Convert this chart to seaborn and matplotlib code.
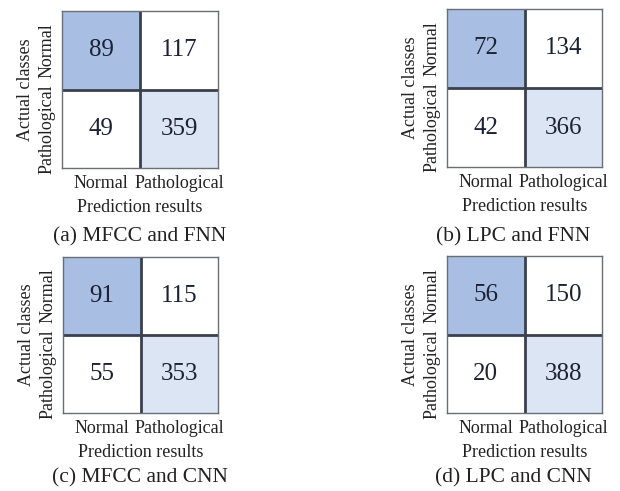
import numpy as np
import matplotlib
matplotlib.use("Agg")
import matplotlib.pyplot as plt
import seaborn as sns
from matplotlib.colors import ListedColormap

# Confusion matrices (rows: actual, cols: predicted)
classes = ["Normal", "Pathological"]
mfcc_fnn = [[89, 117], [49, 359]]
lpc_fnn = [[72, 134], [42, 366]]
mfcc_cnn = [[91, 115], [55, 353]]
lpc_cnn = [[56, 150], [20, 388]]
captions = ["(a) MFCC and FNN", "(b) LPC and FNN", "(c) MFCC and CNN", "(d) LPC and CNN"]
matrices = [mfcc_fnn, lpc_fnn, mfcc_cnn, lpc_cnn]

sns.set_theme(style="white")
plt.rcParams['font.family'] = ['Liberation Serif', 'DejaVu Serif']

W, H = 620, 491
fig = plt.figure(figsize=(W / 100, H / 100), dpi=100)

# cell shading: first diagonal cell dark blue, second light blue, others white
cmap = ListedColormap(["#ffffff", "#dce5f4", "#a8bee3"])
shade = np.diag([2, 1])

# axes boxes in pixels: left, top, right, bottom
boxes = [(62, 11, 218, 168), (447, 9, 602, 167),
         (63, 257, 218, 413), (447, 256, 602, 413)]
caption_pos = [(140, 237), (513, 237), (140, 478), (513, 478)]

for mat, cap, (l, t, r, b), (cx, cy) in zip(matrices, captions, boxes, caption_pos):
    ax = fig.add_axes([l / W, 1 - b / H, (r - l) / W, (b - t) / H])
    sns.heatmap(shade, annot=np.array(mat), fmt="d", cmap=cmap, vmin=0, vmax=2,
                cbar=False, linewidths=0,
                xticklabels=classes, yticklabels=classes,
                annot_kws={"fontsize": 18, "color": "#1c2233"}, ax=ax)
    # inner grid lines
    ax.axhline(1, color="#3a404c", linewidth=2.0)
    ax.axvline(1, color="#3a404c", linewidth=2.0)
    for s in ax.spines.values():
        s.set_visible(True)
        s.set_color("#6a6e75")
        s.set_linewidth(1.0)
    ax.tick_params(length=0, pad=5, colors="#222222")
    ax.set_yticklabels(classes, rotation=90, va="center", fontsize=13)
    ax.set_xticklabels(classes, rotation=0, fontsize=13)
    ax.set_xlabel("Prediction results", fontsize=13, color="#222222", labelpad=5)
    ax.set_ylabel("Actual classes", fontsize=13, color="#222222", labelpad=3)
    fig.text(cx / W, 1 - cy / H, cap, ha="center", va="center",
             fontsize=15.5, color="#222222")

plt.savefig("out.png", dpi=100)
plt.close()
